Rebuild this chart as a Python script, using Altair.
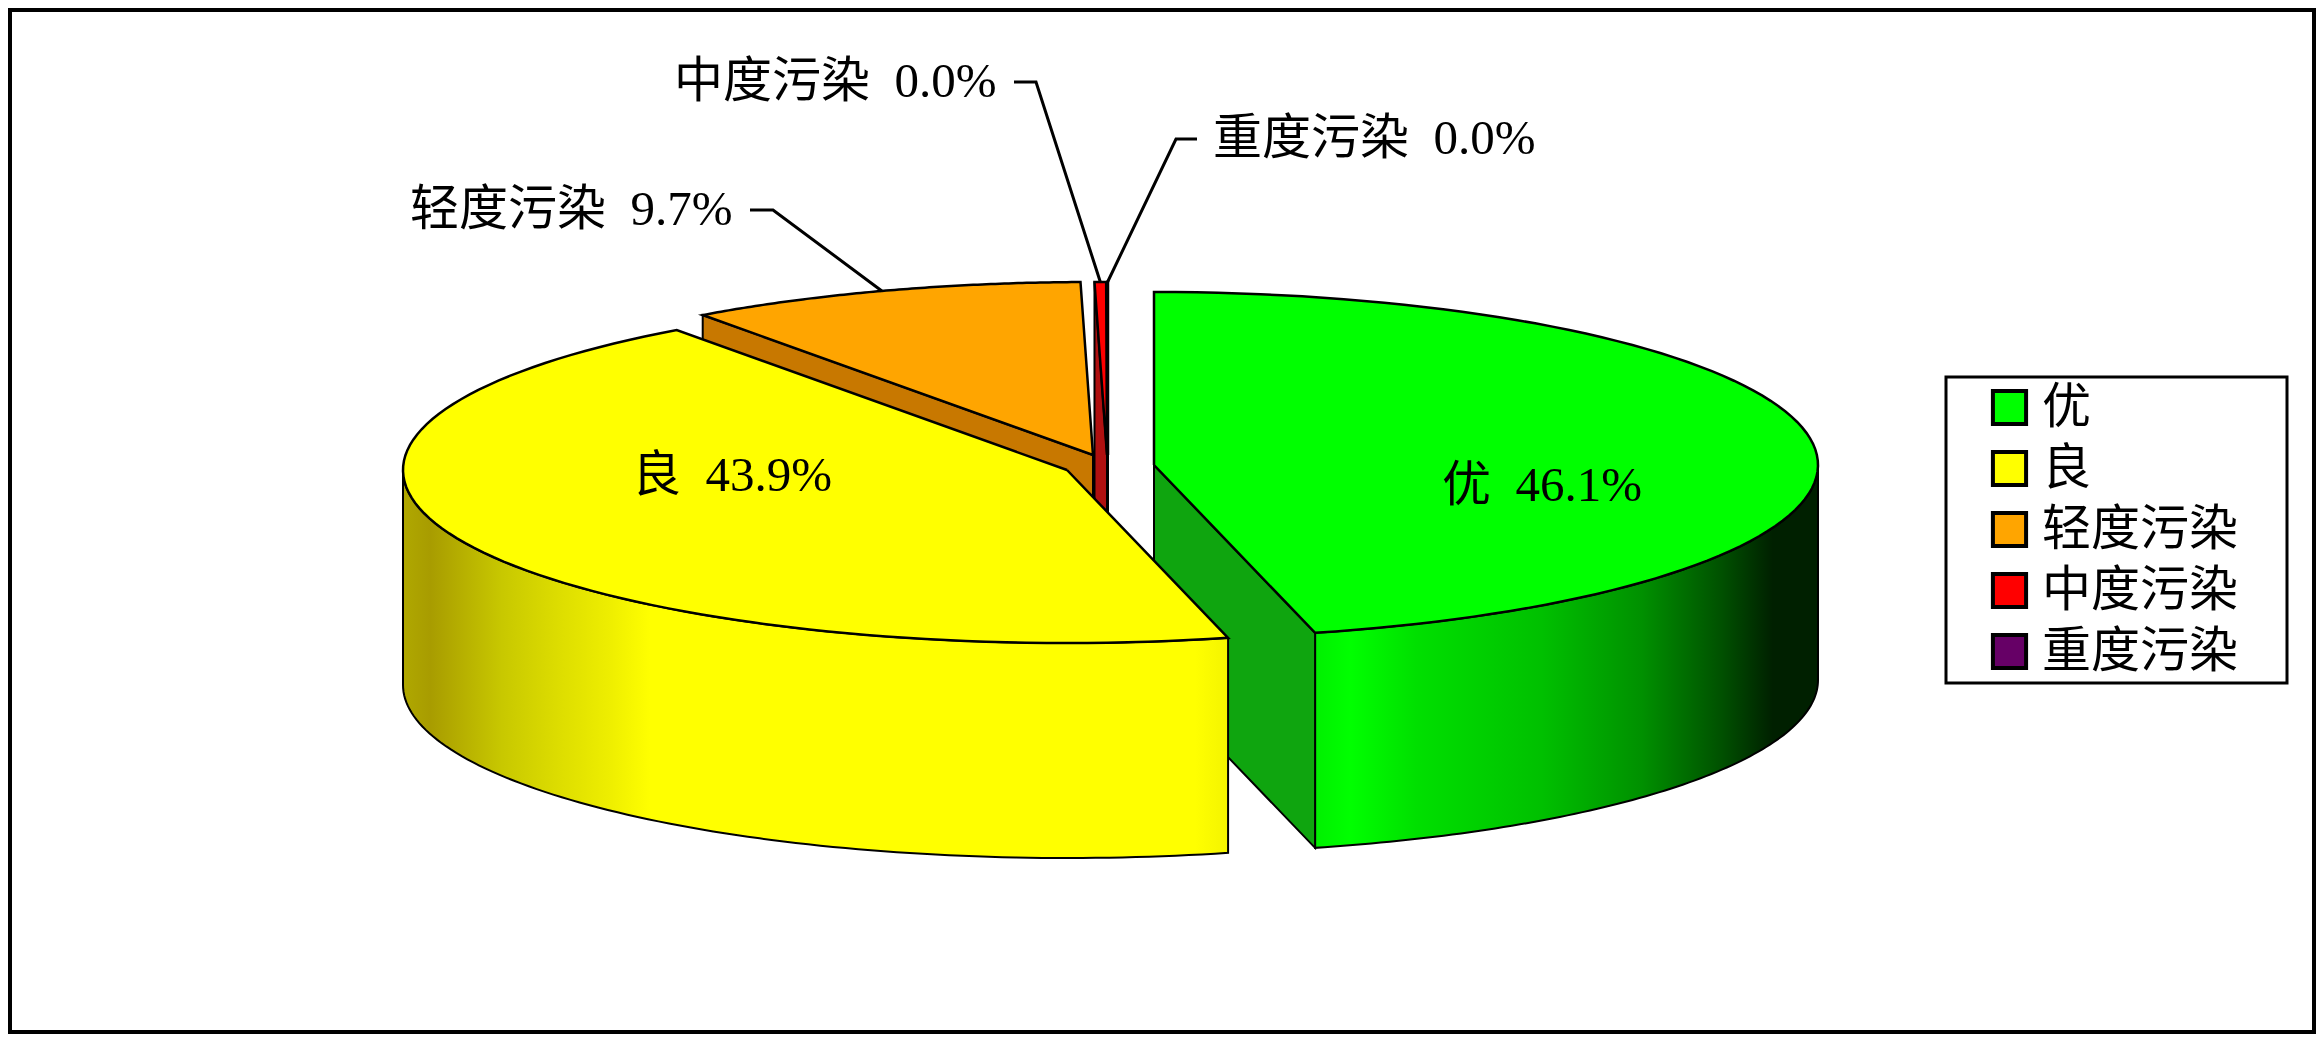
import math
import altair as alt
import pandas as pd

# ---- values ----
categories = ["优", "良", "轻度污染", "中度污染", "重度污染"]
shares = [46.1, 43.9, 9.7, 0.28, 0.02]          # drawn slice sizes
shown = ["46.1%", "43.9%", "9.7%", "0.0%", "0.0%"]  # printed labels
top_colors = ["#00FF00", "#FFFF00", "#FFA500", "#FF0000", "#660066"]
wall_colors = ["#0FA50F", "#B0B000", "#C87800", "#B01010", "#400040"]

# ---- layout (image pixels) ----
centers = [(1154, 465), (1067, 470), (1093, 455), (1107, 455), (1108, 455)]
RX, RY, DEPTH = 664, 173, 215
FONT = "Liberation Serif, Noto Sans CJK SC"
FS = 49
X0, Y0, X1, Y1 = 8, 8, 2316, 1034

x_scale = alt.Scale(domain=[X0, X1], nice=False, zero=False)
y_scale = alt.Scale(domain=[Y0, Y1], nice=False, zero=False, reverse=True)
X = lambda f="x": alt.X(f"{f}:Q", scale=x_scale, axis=None)
Y = lambda f="y": alt.Y(f"{f}:Q", scale=y_scale, axis=None)

bounds, a = [], 0.0
for s in shares:
    bounds.append((a, a + s * 3.6))
    a += s * 3.6


def pt(c, th, dy=0.0):
    r = math.radians(th)
    return (c[0] + RX * math.sin(r), c[1] - RY * math.cos(r) + dy)


def arc(c, a0, a1, dy=0.0, n=90):
    return [pt(c, a0 + (a1 - a0) * k / n, dy) for k in range(n + 1)]


def frame(points):
    return pd.DataFrame(
        {"i": range(len(points)), "x": [p[0] for p in points], "y": [p[1] for p in points]}
    )


def poly(points, fill, sw=2.0):
    return (
        alt.Chart(frame(points + points[:1]))
        .mark_line(fill=fill, stroke="black", strokeWidth=sw, strokeJoin="miter")
        .encode(x=X(), y=Y(), order="i:Q")
    )


def gradient(stops):
    return alt.LinearGradient(
        gradient="linear", x1=0, x2=1, y1=0, y2=0,
        stops=[alt.GradientStop(offset=o, color=c) for o, c in stops],
    )


def top_face(k):
    c = centers[k]
    a0, a1 = bounds[k]
    pts = [c] + arc(c, a0, a1)
    pts = pts + pts[:1]
    d = frame(pts)
    d["cat"] = categories[k]
    return (
        alt.Chart(d)
        .mark_line(stroke="black", strokeWidth=2.5, strokeJoin="miter")
        .encode(
            x=X(), y=Y(), order="i:Q",
            fill=alt.Fill(
                "cat:N",
                scale=alt.Scale(domain=categories, range=top_colors),
                legend=alt.Legend(
                    title=None, orient="none", legendX=1989 - X0 - 4, legendY=389 - Y0 - 6,
                    symbolType="square", symbolSize=1100, symbolStrokeColor="black",
                    symbolStrokeWidth=4, symbolOpacity=1,
                    labelFont=FONT, labelFontSize=FS, labelColor="black", labelLimit=400,
                    labelOffset=8, rowPadding=10, padding=0, strokeColor=None,
                    values=categories,
                ),
            ),
        )
    )


def radial_wall(k, th):
    c = centers[k]
    e = pt(c, th)
    return poly([c, e, (e[0], e[1] + DEPTH), (c[0], c[1] + DEPTH)], wall_colors[k])


def outer_wall(k, a0, a1, fill):
    c = centers[k]
    return poly(arc(c, a0, a1) + arc(c, a1, a0, DEPTH), fill, 2.0)


# legend box and outer frame
box = (
    alt.Chart(pd.DataFrame({"x": [1946], "x2": [2287], "y": [377], "y2": [683]}))
    .mark_rect(fill="white", stroke="black", strokeWidth=3)
    .encode(x=X(), x2="x2:Q", y=Y(), y2="y2:Q")
)
outer = (
    alt.Chart(pd.DataFrame({"x": [X0 + 2], "x2": [X1 - 2], "y": [Y0 + 2], "y2": [Y1 - 2]}))
    .mark_rect(fill="white", stroke="black", strokeWidth=4)
    .encode(x=X(), x2="x2:Q", y=Y(), y2="y2:Q")
)

green_wall = gradient([
    (0.0, "#00F000"), (0.07, "#00FF00"), (0.2, "#00E000"), (0.45, "#00C000"),
    (0.65, "#009000"), (0.81, "#005000"), (0.91, "#002000"), (1.0, "#002000"),
])
yellow_wall = gradient([
    (0.0, "#B0A800"), (0.033, "#A89C00"), (0.12, "#C8C800"), (0.185, "#DCDC00"),
    (0.25, "#EEEE00"), (0.30, "#FFFF00"), (0.96, "#FFFF00"), (1.0, "#F4F400"),
])

layers = [outer, box]
layers += [
    outer_wall(0, 90, bounds[0][1], green_wall),
    radial_wall(0, bounds[0][1]),
    top_face(0),
]
layers += [radial_wall(4, bounds[4][0]), top_face(4)]
layers += [radial_wall(3, bounds[3][0]), top_face(3)]
layers += [radial_wall(2, bounds[2][0]), top_face(2)]
layers += [
    outer_wall(1, bounds[1][0], 270, yellow_wall),
    top_face(1),
]

elbows = {
    2: [(750, 210), (773, 210)],
    3: [(1014, 82), (1036, 82)],
    4: [(1197, 139), (1176, 139)],
}
for k, e in elbows.items():
    m = pt(centers[k], sum(bounds[k]) / 2)
    layers.append(
        alt.Chart(frame(e + [m]))
        .mark_line(stroke="black", strokeWidth=3)
        .encode(x=X(), y=Y(), order="i:Q")
    )

SP = "\u00a0\u00a0"
labels = pd.DataFrame({
    "text": [f"{c}{SP}{s}" for c, s in zip(categories, shown)],
    "x": [1442, 632, 410, 674, 1213],
    "y": [486, 476, 210, 82, 139],
})
layers.append(
    alt.Chart(labels)
    .mark_text(align="left", baseline="middle", font=FONT, fontSize=FS, color="black")
    .encode(x=X(), y=Y(), text="text:N")
)

chart = (
    alt.layer(*layers)
    .properties(width=X1 - X0, height=Y1 - Y0, padding=0, background="white",
                autosize=alt.AutoSizeParams(type="none"))
    .resolve_scale(x="shared", y="shared")
    .configure_view(stroke=None)
)
chart.save("out.html", embed_options={"renderer": "svg", "actions": False})
